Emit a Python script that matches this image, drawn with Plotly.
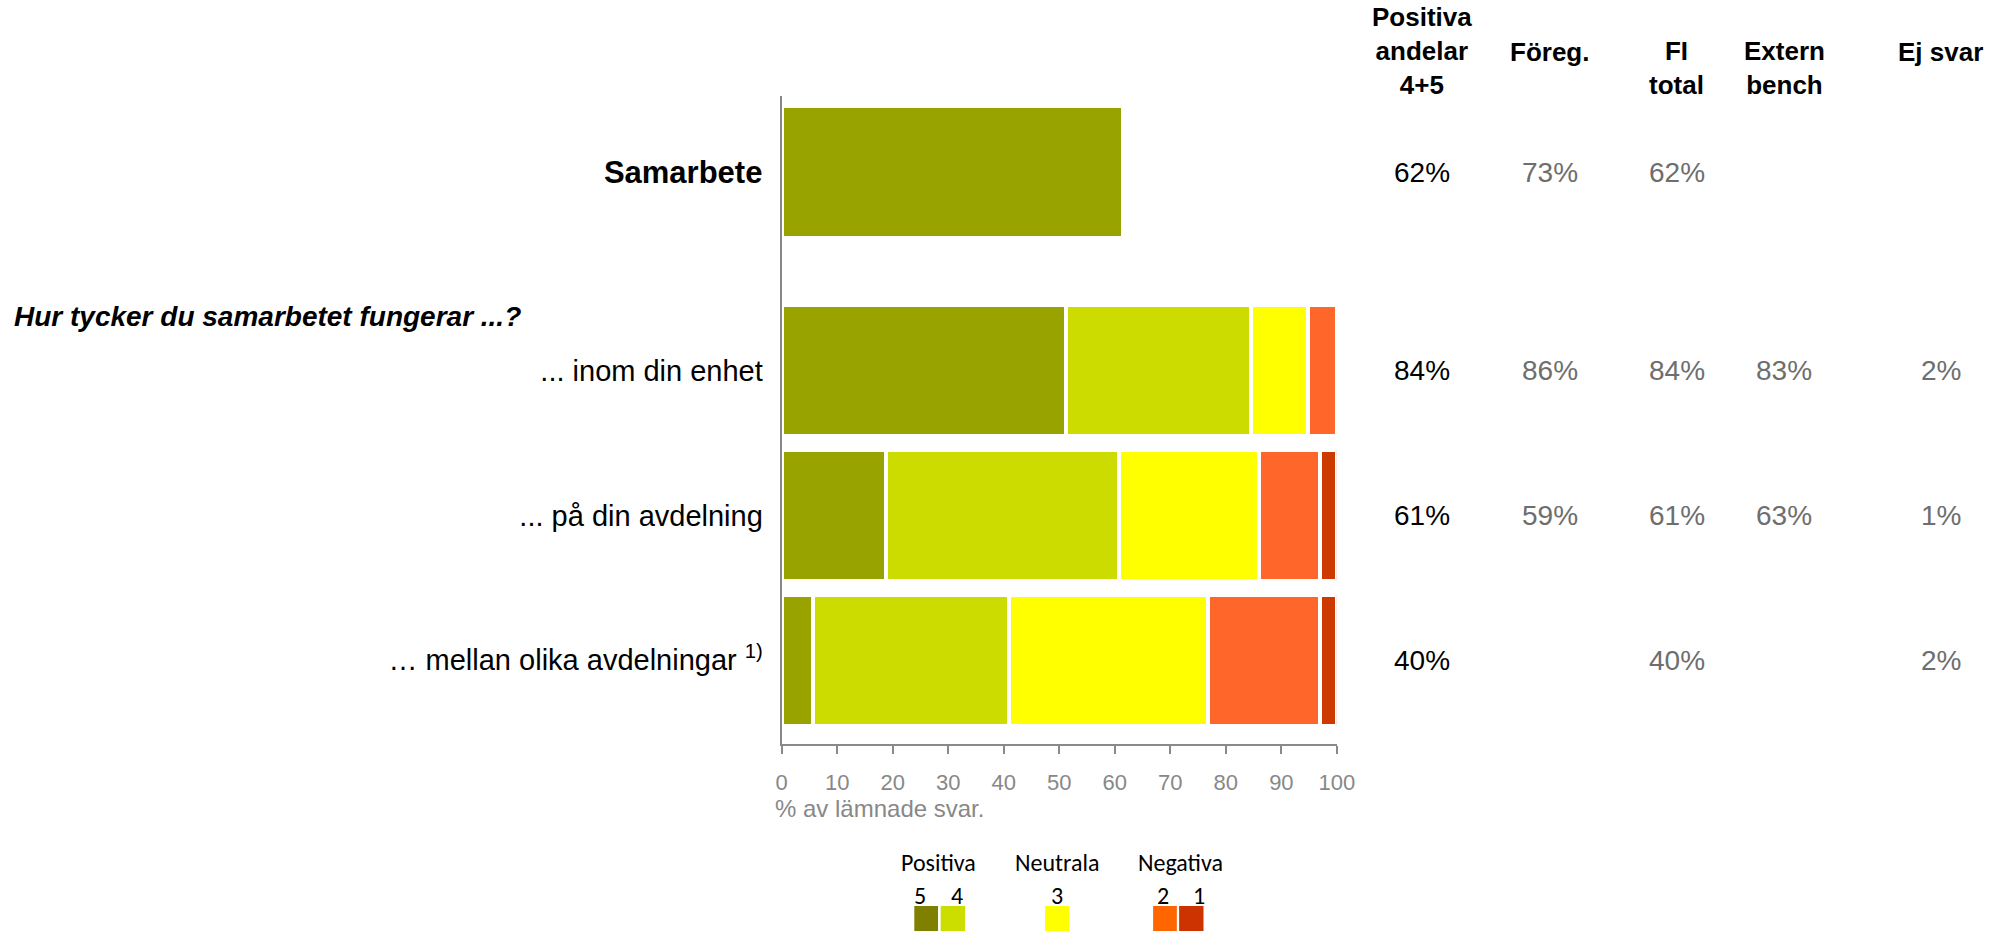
import plotly.graph_objects as go

W, H = 2007, 931

# ---------------- data ----------------
summary_category = ["<b>Samarbete</b>"]
summary_value = [61.5]

categories = [
    "... inom din enhet",
    "... på din avdelning",
    "… mellan olika avdelningar <sup>1)</sup>",
]
level_names = ["5", "4", "3", "2", "1"]
level5 = [51.2, 18.8, 5.7]
level4 = [33.4, 41.9, 35.2]
level3 = [10.2, 25.3, 35.9]
level2 = [5.2, 11.0, 20.2]
level1 = [0.0, 3.0, 3.0]

tick_values = list(range(0, 101, 10))

col_headers = ["Positiva<br>andelar<br>4+5", "Föreg.", "FI<br>total", "Extern<br>bench", "Ej svar"]
positiva = ["62%", "84%", "61%", "40%"]
foreg = ["73%", "86%", "59%", ""]
fi_total = ["62%", "84%", "61%", "40%"]
extern = ["", "83%", "63%", ""]
ej_svar = ["", "2%", "1%", "2%"]

legend_groups = ["Positiva", "Neutrala", "Negativa"]

# ---------------- styles ----------------
bar_colors = ["#98A300", "#CCDB00", "#FFFF00", "#FF6629", "#CC3A00"]
legend_colors = ["#808000", "#CCDD00", "#FFFF00", "#FF6600", "#CC3300"]
AXIS_GRAY = "#898989"
TEXT_GRAY = "#6E6E6E"
TICK_GRAY = "#888888"
FONT = "Liberation Sans, Arial, sans-serif"
LFONT = "Carlito, Lato, sans-serif"


def px(x):
    return x / W


def py(y):
    return 1 - y / H


X0, X1 = 785, 1347
Y_TOP, Y_SPLIT, Y_BOT = 95.7, 297, 744

fig = go.Figure()

fig.add_trace(go.Bar(
    y=summary_category, x=summary_value, orientation="h",
    xaxis="x2", yaxis="y2", showlegend=False, hoverinfo="skip",
    marker=dict(color=bar_colors[0], line=dict(color="white", width=4)),
))

for name, vals, col in zip(level_names, [level5, level4, level3, level2, level1], bar_colors):
    fig.add_trace(go.Bar(
        y=categories, x=vals, orientation="h", name=name,
        xaxis="x", yaxis="y", showlegend=False,
        marker=dict(color=col, line=dict(color="white", width=4)),
    ))

annotations = []

# left header
annotations.append(dict(
    text="<b><i>Hur tycker du samarbetet fungerar ...?</i></b>",
    x=px(6), y=py(316), xref="paper", yref="paper",
    xanchor="left", yanchor="middle", showarrow=False,
    font=dict(family=FONT, size=28, color="black"),
))

# column headers and values
col_x = [1433.5, 1562.5, 1691, 1800, 1958]
col_vals = [positiva, foreg, fi_total, extern, ej_svar]
col_colors = ["black", TEXT_GRAY, TEXT_GRAY, TEXT_GRAY, TEXT_GRAY]
row_refs = [("y2", summary_category[0])] + [("y", c) for c in categories]

for hdr, cx, vals, ccol in zip(col_headers, col_x, col_vals, col_colors):
    n_lines = hdr.count("<br>") + 1
    bottom = 102 if n_lines > 1 else 69
    annotations.append(dict(
        text="<b>" + hdr + "</b>", x=px(cx), y=py(bottom),
        xref="paper", yref="paper", xanchor="center", yanchor="bottom",
        align="center", showarrow=False,
        font=dict(family=FONT, size=26, color="black"),
    ))
    for (yr, cat), v in zip(row_refs, vals):
        if not v:
            continue
        annotations.append(dict(
            text=v, x=px(cx), y=cat, xref="paper", yref=yr,
            xanchor="center", yanchor="middle", showarrow=False,
            font=dict(family=FONT, size=28, color=ccol),
        ))

# axis caption
annotations.append(dict(
    text="% av lämnade svar.", x=px(776), y=py(808), xref="paper", yref="paper",
    xanchor="left", yanchor="middle", showarrow=False,
    font=dict(family=FONT, size=24, color=TICK_GRAY),
))

# legend
group_x = [943.8, 1064, 1189]
for g, gx in zip(legend_groups, group_x):
    annotations.append(dict(
        text=g, x=px(gx), y=py(862), xref="paper", yref="paper",
        xanchor="center", yanchor="middle", showarrow=False,
        font=dict(family=LFONT, size=24, color="black"),
    ))
num_x = [925.4, 962.5, 1063.5, 1171, 1207.5]
sq_x = [(919.3, 943.3), (946, 970.7), (1051.7, 1076), (1161, 1185), (1187.3, 1212)]
shapes = []
for nm, nx, (sx0, sx1), lc in zip(level_names, num_x, sq_x, legend_colors):
    annotations.append(dict(
        text=nm, x=px(nx), y=py(895), xref="paper", yref="paper",
        xanchor="center", yanchor="middle", showarrow=False,
        font=dict(family=LFONT, size=24, color="black"),
    ))
    shapes.append(dict(
        type="rect", xref="paper", yref="paper",
        x0=px(sx0), x1=px(sx1), y0=py(945), y1=py(906),
        fillcolor=lc, line=dict(width=0),
    ))

fig.update_layout(
    width=W, height=H,
    margin=dict(l=0, r=0, t=0, b=0),
    paper_bgcolor="white", plot_bgcolor="white",
    barmode="stack", bargap=0.092,
    showlegend=False,
    font=dict(family=FONT),
    xaxis=dict(
        domain=[px(X0), px(X1)], range=[0, 100], anchor="y",
        showline=True, linecolor=AXIS_GRAY, linewidth=2,
        ticks="outside", ticklen=8, tickwidth=2, tickcolor=AXIS_GRAY,
        tickvals=tick_values, ticktext=[str(t) for t in tick_values],
        tickfont=dict(family=FONT, size=22, color=TICK_GRAY),
        ticklabelstandoff=10,
        showgrid=False, zeroline=False, fixedrange=True,
    ),
    xaxis2=dict(
        domain=[px(X0), px(X1)], range=[0, 100], anchor="y2",
        visible=False, fixedrange=True,
    ),
    yaxis=dict(
        domain=[py(Y_BOT), py(Y_SPLIT)], anchor="x",
        type="category", categoryorder="array", categoryarray=categories,
        range=[2.577, -0.506],
        showline=True, linecolor=AXIS_GRAY, linewidth=2,
        ticks="", tickfont=dict(family=FONT, size=29, color="black"),
        ticklabelstandoff=11,
        showgrid=False, zeroline=False, fixedrange=True,
    ),
    yaxis2=dict(
        domain=[py(Y_SPLIT), py(Y_TOP)], anchor="x2",
        type="category", categoryarray=summary_category,
        range=[-0.86, 0.528],
        showline=True, linecolor=AXIS_GRAY, linewidth=2,
        ticks="", tickfont=dict(family=FONT, size=31, color="black"),
        ticklabelstandoff=11,
        showgrid=False, zeroline=False, fixedrange=True,
    ),
    annotations=annotations,
    shapes=shapes,
)

fig.write_html(
    "out.html",
    config={"displayModeBar": False},
    post_script="document.body.style.margin='0';document.body.style.overflow='hidden';",
)
